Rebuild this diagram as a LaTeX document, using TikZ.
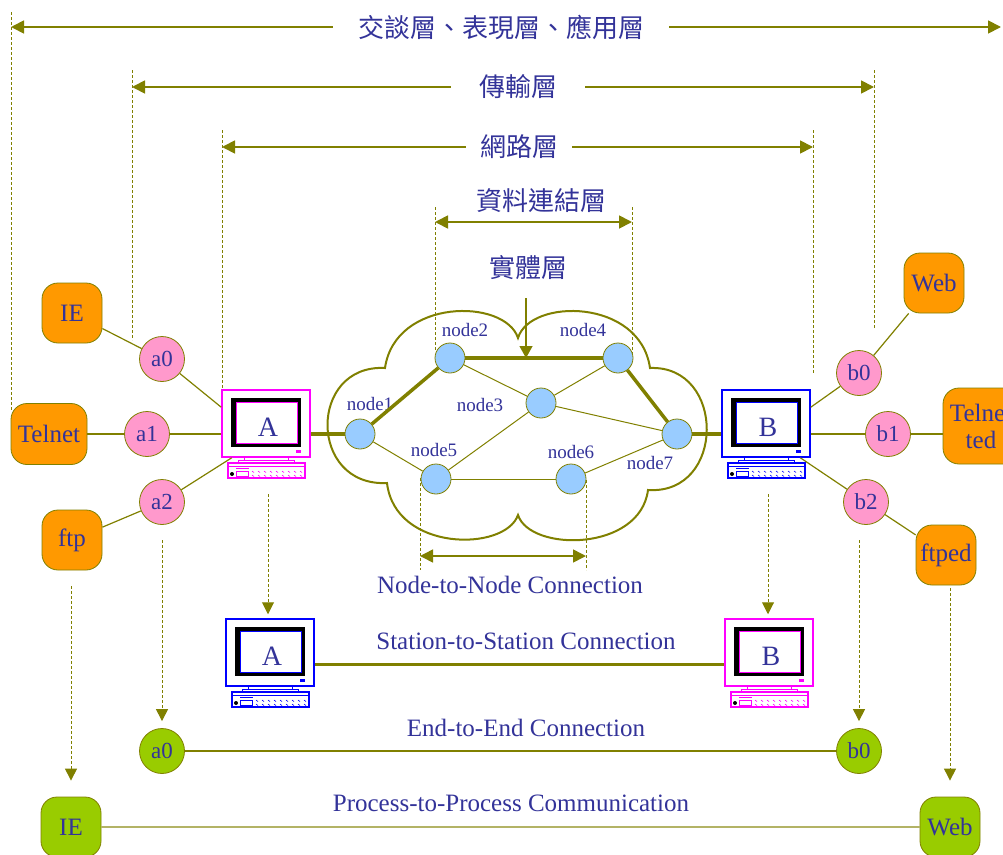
\documentclass[tikz,border=0pt]{standalone}
\usepackage{fontspec}
\setmainfont{Liberation Serif}
\newfontfamily\cjk{Noto Sans CJK TC}
\usetikzlibrary{arrows.meta}

\definecolor{lineol}{RGB}{128,128,0}
\definecolor{txtblue}{RGB}{51,51,153}
\definecolor{appor}{RGB}{255,153,0}
\definecolor{portpk}{RGB}{255,153,204}
\definecolor{nodebl}{RGB}{153,204,255}
\definecolor{endgr}{RGB}{153,204,0}
\definecolor{pcmag}{RGB}{255,0,255}
\definecolor{pcblue}{RGB}{0,0,255}

\tikzset{
  layerarrow/.style={draw=lineol, line width=1.8pt, -{Triangle[length=13pt,width=13pt]}},
  layertxt/.style={text=txtblue, font=\cjk\fontsize{26}{30}\selectfont, inner ysep=2pt},
  guide/.style={draw=lineol, line width=0.8pt, dash pattern=on 3pt off 2pt},
  droparrow/.style={draw=lineol, line width=1pt, dash pattern=on 3pt off 2pt, -{Triangle[length=12pt,width=12pt]}},
  conntxt/.style={text=txtblue, font=\fontsize{25}{30}\selectfont},
  cloudline/.style={draw=lineol, line width=2pt},
  routerdot/.style={circle, draw=lineol, fill=nodebl, line width=0.8pt, minimum size=30pt, inner sep=0pt},
  routertxt/.style={text=txtblue, font=\fontsize{19}{22}\selectfont, inner sep=1pt},
  trunk/.style={draw=lineol, line width=3.5pt},
  link/.style={draw=lineol, line width=1pt},
  wire/.style={draw=lineol, line width=1.2pt},
  portnode/.style={circle, draw=lineol, fill=portpk, line width=0.8pt, minimum size=45pt, inner sep=0pt, text=txtblue, font=\fontsize{23}{26}\selectfont},
  appbox/.style={rounded corners=16pt, draw=lineol, fill=appor, line width=0.8pt, minimum width=60pt, minimum height=60pt, inner sep=2pt, text=txtblue, font=\fontsize{25}{27}\selectfont, align=center},
  endnode/.style={portnode, fill=endgr},
  procbox/.style={appbox, fill=endgr},
  monitor/.style={rectangle, fill=white, line width=1.5pt, minimum width=88pt, minimum height=67pt, inner sep=0pt},
  pcletter/.style={text=txtblue, font=\fontsize{28}{30}\selectfont, inner sep=0pt},
}

% computer: #1 name, #2 top left corner, #3 colour, #4 letter
\newcommand{\drawpc}[4]{%
  \begin{scope}[shift={#2}]
    \node[monitor, draw=#3] (#1) at (44,33.5) {};
    \fill[black] (9,8) rectangle (79,57);
    \draw[#3, line width=1pt, fill=white] (14,12) rectangle (75,53);
    \node[pcletter] (#1-txt) at (46,37) {#4};
    \fill[#3] (74,60) rectangle (79,62.5);
    \draw[#3, line width=1pt, fill=white] (22,67) rectangle (66,70);
    \draw[#3, line width=1pt, fill=white] (16,70) rectangle (72,73);
    \draw[#3, line width=1.2pt, fill=white] (6,73) rectangle (83,88);
    \draw[#3, line width=0.8pt] (7,76) -- (82,76);
    \fill[#3] (14,77.5) rectangle (27,79);
    \fill[black] (10,84) circle (2);
    \draw[#3, line width=0.6pt] (14,81.5) rectangle (26,86);
    \foreach \k in {30,36,...,78} \draw[#3, line width=0.6pt] (\k,81) -- ++(2,1.5) (\k,85) -- ++(2,1.5);
  \end{scope}}

\begin{document}
\begin{tikzpicture}[x=1pt,y=1pt,yscale=-1,xscale=1]
		\useasboundingbox (0,0) rectangle (1003,854);
		\clip (0,0) rectangle (1003,854);

		% Layer arrows on top
		\coordinate (s-l) at (11,27);
		\coordinate (s-r) at (1001,27);
		\node[layertxt, inner xsep=25pt] (s-txt) at (501,27) {交談層、表現層、應用層};
		\draw[layerarrow] (s-txt) -- (s-l);
		\draw[layerarrow] (s-txt) -- (s-r);

		\coordinate (t-l) at (132,87);
		\coordinate (t-r) at (874,87);
		\node[layertxt, inner xsep=28pt] (t-txt) at (518,87) {傳輸層};
		\draw[layerarrow] (t-txt) -- (t-l);
		\draw[layerarrow] (t-txt) -- (t-r);

		\coordinate (n-l) at (222,147);
		\coordinate (n-r) at (813,147);
		\node[layertxt, inner xsep=14pt] (n-txt) at (519,147) {網路層};
		\draw[layerarrow] (n-txt) -- (n-l);
		\draw[layerarrow] (n-txt) -- (n-r);

		\coordinate (d-l) at (435,222);
		\coordinate (d-r) at (632,222);
		\node[layertxt] (d-txt) at (541,201) {資料連結層};
		\draw[layerarrow, {Triangle[length=13pt,width=13pt]}-{Triangle[length=13pt,width=13pt]}] (d-l) -- (d-r);

		% Dashed guide lines below the arrow ends
		\draw[guide] (11,12) -- (11,410);
		\draw[guide] (132,70) -- (132,340);
		\draw[guide] (874,70) -- (874,328);
		\draw[guide] (222,130) -- (222,388);
		\draw[guide] (813,130) -- (813,373);
		\draw[guide] (435,207) -- (435,350);
		\draw[guide] (632,207) -- (632,357);
		\draw[guide] (420,478) -- (420,570);
		\draw[guide] (586,480) -- (586,570);

		% The cloud
		\draw[cloudline] (385,368) .. controls (395,298) and (505,298) .. (518,338)
			.. controls (530,298) and (640,298) .. (650,368)
			.. controls (726,365) and (726,495) .. (648,490)
			.. controls (640,552) and (530,552) .. (518,515)
			.. controls (505,552) and (395,552) .. (387,483)
			.. controls (308,487) and (308,364) .. cycle;

		% Nodes in the cloud
		\node[routerdot] (n1) at (360,434) {};
		\node[routerdot] (n2) at (450,358) {};
		\node[routerdot] (n3) at (541,403) {};
		\node[routerdot] (n4) at (618,358) {};
		\node[routerdot] (n5) at (436,479) {};
		\node[routerdot] (n6) at (571,479) {};
		\node[routerdot] (n7) at (677,434) {};

		\node[routertxt] (n1-lbl) at (370,404) {node1};
		\node[routertxt] (n2-lbl) at (465,330) {node2};
		\node[routertxt] (n3-lbl) at (480,405) {node3};
		\node[routertxt] (n4-lbl) at (583,330) {node4};
		\node[routertxt] (n5-lbl) at (434,450) {node5};
		\node[routertxt] (n6-lbl) at (571,452) {node6};
		\node[routertxt] (n7-lbl) at (650,463) {node7};

		% Links between the nodes
		\draw[trunk] (n1) -- (n2);
		\draw[trunk] (n2) -- (n4);
		\draw[trunk] (n4) -- (n7);
		\draw[link] (n1) -- (n5);
		\draw[link] (n2) -- (n3);
		\draw[link] (n3) -- (n4);
		\draw[link] (n3) -- (n5);
		\draw[link] (n3) -- (n7);
		\draw[link] (n5) -- (n6);
		\draw[link] (n6) -- (n7);

		% Physical layer label
		\node[layertxt] (p-txt) at (528,268) {實體層};
		\coordinate (p-from) at (526,298);
		\draw[layerarrow, line width=1.3pt, -{Triangle[length=12pt,width=13pt]}] (p-from) -- (p-from |- n2);

		% Stations A and B
		\drawpc{pcA}{(222,390)}{pcmag}{A}
		\drawpc{pcB}{(722,390)}{pcblue}{B}
		\draw[trunk] (pcA.east |- n1) -- (n1);
		\draw[trunk] (n7) -- (pcB.west |- n7);

		% Ports and programs of A
		\node[portnode] (a0) at (162,359) {a0};
		\node[portnode] (a1) at (147,434) {a1};
		\node[portnode] (a2) at (162,502) {a2};
		\node[appbox] (ie) at (72,313) {IE};
		\node[appbox, minimum width=76pt, minimum height=61pt] (tel) at (49,434) {Telnet};
		\node[appbox] (ftp) at (72,540) {ftp};
		\draw[wire] (ie) -- (a0) -- (pcA.160);
		\draw[wire] (tel) -- (a1) -- (a1 -| pcA.west);
		\draw[wire] (ftp) -- (a2) -- (pcA.225);

		% Ports and programs of B
		\node[portnode] (b0) at (859,373) {b0};
		\node[portnode] (b1) at (888,434) {b1};
		\node[portnode] (b2) at (866,502) {b2};
		\node[appbox] (web) at (934,283) {Web};
		\node[appbox, minimum width=76pt, minimum height=76pt] (tted) at (981,426) {Telnet\\ted};
		\node[appbox] (fted) at (946,555) {ftped};
		\draw[wire] (web) -- (b0) -- (pcB.20);
		\draw[wire] (pcB.east |- b1) -- (b1) -- (b1 -| tted.west);
		\draw[wire] (pcB.-45) -- (b2) -- (fted);

		% Node-to-Node
		\coordinate (nn-l) at (420,556);
		\coordinate (nn-r) at (586,556);
		\draw[layerarrow, line width=1.6pt, {Triangle[length=13pt,width=13pt]}-{Triangle[length=13pt,width=13pt]}] (nn-l) -- (nn-r);
		\node[conntxt] (nn-txt) at (510,585) {Node-to-Node Connection};

		% Station-to-Station
		\drawpc{pcC}{(226,619)}{pcblue}{A}
		\drawpc{pcD}{(725,619)}{pcmag}{B}
		\draw[trunk, line width=2.6pt] (pcC.-15) -- (pcD.195);
		\node[conntxt] (ss-txt) at (526,641) {Station-to-Station Connection};
		\coordinate (dA) at (268,494);
		\coordinate (dB) at (768,494);
		\draw[droparrow, shorten >=4pt] (dA) -- (dA |- pcC.north);
		\draw[droparrow, shorten >=4pt] (dB) -- (dB |- pcD.north);

		% End-to-End
		\node[endnode] (e-a0) at (162,751) {a0};
		\node[endnode] (e-b0) at (859,751) {b0};
		\draw[wire] (e-a0) -- (e-b0);
		\node[conntxt] (ee-txt) at (526,728) {End-to-End Connection};
		\coordinate (da0) at (162,540);
		\coordinate (db0) at (859,540);
		\draw[droparrow, shorten >=7pt] (da0) -- (e-a0);
		\draw[droparrow, shorten >=7pt] (db0) -- (e-b0);

		% Process-to-Process
		\node[procbox] (p-ie) at (71,827) {IE};
		\node[procbox] (p-web) at (950,827) {Web};
		\draw[wire, draw=lineol!60, line width=2.2pt] (p-ie) -- (p-web);
		\node[conntxt] (pp-txt) at (511,803) {Process-to-Process Communication};
		\coordinate (die) at (71,586);
		\coordinate (dweb) at (950,588);
		\draw[droparrow, shorten >=16pt] (die) -- (p-ie);
		\draw[droparrow, shorten >=16pt] (dweb) -- (p-web);
	\end{tikzpicture}
\end{document}
